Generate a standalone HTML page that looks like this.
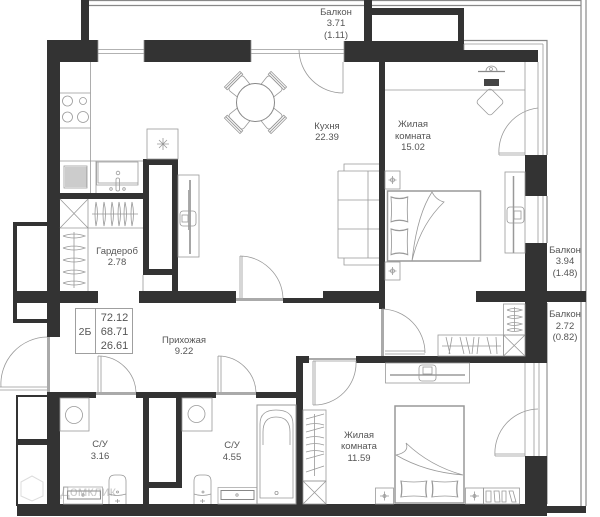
<!DOCTYPE html>
<html><head><meta charset="utf-8"><style>
html,body{margin:0;padding:0;background:#fff;width:600px;height:517px;overflow:hidden}
svg{display:block}
text{font-family:"Liberation Sans",sans-serif;font-size:9.5px;fill:#555;text-anchor:middle}
.w{fill:#333}
.l{fill:none;stroke:#999;stroke-width:.8}
.m{fill:none;stroke:#888;stroke-width:1.2}
.t{fill:#aaa}
</style></head><body>
<svg width="600" height="517" viewBox="0 0 600 517" xmlns="http://www.w3.org/2000/svg">
<defs>
<g id="chair">
<path class="l" d="M-9 -17L-10 -26Q-10 -29 -7 -29L7 -29Q10 -29 10 -26L9 -17"/>
<rect class="l" x="-11" y="-31" width="22" height="2"/>
<rect class="l" x="-11" y="-33" width="22" height="2"/>
</g>
<g id="lamp">
<rect class="l" x="0" y="0" width="15" height="18"/>
<circle class="l" cx="7.5" cy="9" r="2"/>
<path class="l" d="M3.5 9H11.5M7.5 5V13"/>
</g>
<path id="pil" class="l" d="M0 0Q8 2 16 0Q15 8 16 16Q8 14 0 16Q1 8 0 0Z"/>
</defs>

<!-- balcony outlines -->
<path class="m" d="M89 0.5H581M89 5.5H364M372 5.5H581M581 0V506M586 0V506M464 40.5H547V155M547 196V243M547 303V504"/>
<path class="l" d="M464 44H543"/>
<rect class="w" x="547" y="506" width="39" height="7"/>

<!-- walls -->
<g class="w">
<rect x="81" y="0" width="8" height="41"/>
<rect x="47" y="40" width="51" height="22"/>
<rect x="144" y="40" width="107" height="22"/>
<rect x="47" y="40" width="13" height="297"/>
<rect x="344" y="41" width="120" height="21"/>
<rect x="464" y="50" width="74" height="12"/>
<rect x="364" y="0" width="8" height="41"/>
<rect x="372" y="8" width="92" height="7"/>
<rect x="458" y="8" width="6" height="42"/>
<rect x="379" y="62" width="6" height="247"/>
<rect x="60" y="193" width="83" height="6"/>
<rect x="143" y="159" width="6" height="116"/>
<rect x="172" y="159" width="6" height="132"/>
<rect x="143" y="159" width="35" height="6"/>
<rect x="143" y="269" width="35" height="6"/>
<rect x="13" y="222" width="34" height="4"/>
<rect x="13" y="222" width="4" height="101"/>
<rect x="13" y="291" width="85" height="12"/>
<rect x="13" y="319" width="34" height="4"/>
<rect x="139" y="291" width="97" height="12"/>
<rect x="283" y="298" width="40" height="5"/>
<rect x="323" y="291" width="56" height="12"/>
<rect x="525" y="155" width="22" height="41"/>
<rect x="525" y="243" width="22" height="120"/>
<rect x="476" y="291" width="110" height="11"/>
<rect x="356" y="356" width="191" height="7"/>
<rect x="296" y="356" width="13" height="7"/>
<rect x="296" y="356" width="7" height="150"/>
<rect x="525" y="456" width="22" height="48"/>
<rect x="17" y="504" width="530" height="12"/>
<rect x="47" y="392" width="13" height="114"/>
<rect x="60" y="392" width="36" height="6"/>
<rect x="136" y="392" width="80" height="6"/>
<rect x="256" y="392" width="44" height="6"/>
<rect x="143" y="398" width="6" height="108"/>
<rect x="176" y="398" width="6" height="90"/>
<rect x="149" y="482" width="33" height="6"/>
<rect x="16" y="395" width="31" height="2"/>
<rect x="16" y="395" width="2" height="111"/>
<rect x="17" y="439" width="30" height="6"/>
</g>

<!-- thresholds -->
<g class="t">
<rect x="236" y="298" width="47" height="3"/>
<rect x="96" y="392" width="40" height="3"/>
<rect x="216" y="392" width="40" height="3"/>
<rect x="47" y="337" width="3" height="55"/>
<rect x="381" y="309" width="3" height="47"/>
<rect x="309" y="358" width="47" height="2"/>
</g>

<!-- windows -->
<path class="l" d="M98 40V62M144 40V62M98 49.5H144M98 53.5H144M251 40V62M251 49.5H344M251 53.5H344M344 41V62M464 44V50M538 62V155M543 44V155M538 196V243M543 196V243M525 363V456M547 363V456M534 363V456M539 363V456"/>

<!-- doors -->
<path class="l" d="M343 93V62M343 93A44 44 0 0 1 299 50"/>
<path class="l" d="M538 108A44 44 0 0 0 499 155M499 155H525M499 153H525"/>
<path class="l" d="M240 256V298M242 256V298M240 256A44 44 0 0 1 283 298"/>
<path class="l" d="M1 387A47 47 0 0 1 47 337M0 387H47M0 390H47"/>
<path class="l" d="M98 356V392M101 356V392M98 356A38 38 0 0 1 136 392"/>
<path class="l" d="M218 356V392M221 356V392M218 356A38 38 0 0 1 256 392"/>
<path class="l" d="M382 309A44 44 0 0 1 425 353M385 351H425M385 354H425"/>
<path class="l" d="M313 405V361M315 405V361M313 405A42 42 0 0 0 356 361M313 361H356"/>
<path class="l" d="M538 409A44 44 0 0 0 495 456M495 456H525M495 454H525"/>

<!-- kitchen counter -->
<path class="l" d="M90.5 62V193M60 93H90.5M60 128H90.5M60 161H143M96 161V193"/>
<circle class="l" cx="67.5" cy="101" r="5"/>
<circle class="l" cx="83" cy="101" r="3.5"/>
<circle class="l" cx="67.5" cy="117" r="5"/>
<circle class="l" cx="83" cy="117" r="5.5"/>
<rect class="l" x="64" y="166" width="23" height="22"/>
<path d="M65 168H87M65 170H87M65 172H87M65 174H87M65 176H87M65 178H87M65 180H87M65 182H87M65 184H87M65 186H87" stroke="#777" stroke-width=".7"/>
<path class="l" d="M96.5 162H138V185H96.5ZM98 162V183H138"/>
<circle class="l" cx="118" cy="173" r="1.8"/>
<rect class="l" x="116" y="178" width="3.5" height="13" rx="1.5"/>
<circle class="l" cx="111" cy="189" r="1.3"/>
<circle class="l" cx="124" cy="189" r="1.3"/>
<rect class="l" x="147" y="129" width="31" height="30"/>
<path class="l" d="M157 144H169M163 138V150M159 140L167 148M167 140L159 148"/>
<path class="l" d="M143 275V291"/>

<!-- kitchen TV -->
<rect class="l" x="178" y="175" width="21" height="82"/>
<path d="M190 180V254" stroke="#888" stroke-width="1.5"/>
<path d="M188.5 190V230" stroke="#aaa"/>
<rect class="l" x="180" y="211" width="16" height="15" rx="3"/>
<rect class="l" x="182" y="215" width="6" height="7"/>

<!-- table -->
<use href="#chair" transform="translate(255.5 102.5) rotate(-45)"/>
<use href="#chair" transform="translate(255.5 102.5) rotate(45)"/>
<use href="#chair" transform="translate(255.5 102.5) rotate(135)"/>
<use href="#chair" transform="translate(255.5 102.5) rotate(225)"/>
<circle cx="255.5" cy="102.5" r="19" fill="#fff" stroke="#888" stroke-width="1"/>

<!-- sofa -->
<path class="l" d="M344 171V164H379M338 171H379M338 171V258H379M338 200H379M338 229H379M368 171V258M344 258V265H379"/>

<!-- wardrobe -->
<path class="l" d="M60 228H143M88 199V291M60 199L88 228M88 199L60 228"/>
<path class="l" d="M92 214H138"/>
<path class="l" d="M96 202Q99 214 96 226Q94 214 96 202M104 202Q107 214 104 226Q102 214 104 202M112 202Q115 214 112 226Q110 214 112 202M119 202Q122 214 119 226Q117 214 119 202M125 202Q128 214 125 226Q123 214 125 202M132 202Q135 214 132 226Q130 214 132 202"/>
<path class="l" d="M74 232V288M63 236Q74 232 85 236Q74 240 63 236M63 248Q74 244 85 248Q74 252 63 248M63 260Q74 256 85 260Q74 264 63 260M63 272Q74 268 85 272Q74 276 63 272M63 283Q74 279 85 283Q74 287 63 283"/>

<!-- info box -->
<rect x="75.5" y="308.5" width="57" height="45" fill="#fff" stroke="#888" stroke-width=".8"/>
<path d="M95.5 308.5V353.5" stroke="#888" stroke-width=".8"/>
<text x="85" y="335" style="font-size:10.5px">2Б</text>
<text x="114.5" y="321" style="font-size:11px">72.12</text>
<text x="114.5" y="335" style="font-size:11px">68.71</text>
<text x="114.5" y="349" style="font-size:11px">26.61</text>

<!-- room 1 furniture -->
<path class="l" d="M385 90H525M525 62V155"/>
<path class="m" d="M478 71.5H505"/>
<path class="l" d="M486 71A5.5 5 0 0 1 497 71"/>
<circle class="l" cx="491" cy="69" r="1.5"/>
<rect x="484" y="79" width="15" height="7" fill="#444"/>
<rect class="l" x="480" y="92" width="20" height="20" rx="3" transform="rotate(45 490 102)"/>
<use href="#lamp" transform="translate(385 171)"/>
<use href="#lamp" transform="translate(385 262)"/>
<rect x="387.5" y="191" width="93" height="70" fill="#fff" stroke="#999" stroke-width="1.5"/>
<use href="#pil" transform="translate(391 197) scale(1.05 1.55)"/>
<use href="#pil" transform="translate(391 229) scale(1.05 1.6)"/>
<path class="l" d="M412 261Q417 215 432 192Q436 200 444 202Q420 225 412 261Z"/>

<!-- room 1 TV -->
<rect class="l" x="505" y="172" width="20" height="81"/>
<path d="M513.5 176V253" stroke="#999" stroke-width="1.5"/>
<rect class="l" x="507" y="207" width="17" height="16" rx="3"/>
<rect class="l" x="514" y="211" width="7" height="8"/>

<!-- room 1 wardrobe -->
<rect class="l" x="503.5" y="304" width="21.5" height="31"/>
<path class="l" d="M514.5 307V331M507 310Q514 307 522 310Q514 313 507 310M507 317Q514 314 522 317Q514 320 507 317M507 324Q514 321 522 324Q514 327 507 324M507 330Q514 327 522 330Q514 333 507 330"/>
<rect class="l" x="503.5" y="335" width="21.5" height="21"/>
<path class="l" d="M503.5 335L525 356M525 335L503.5 356"/>
<rect class="l" x="438" y="335" width="65.5" height="21"/>
<path class="l" d="M442 346H501M446 337L450 354M452 337L449 354M460 337L464 354M466 337L470 354M474 337L472 354M479 337L477 354M487 337L491 354M496 337L497 354"/>

<!-- bedroom 2 -->
<rect class="l" x="385.5" y="363" width="84" height="20"/>
<path class="m" d="M390 375H465"/>
<rect class="l" x="419" y="365" width="17" height="16" rx="3"/>
<rect class="l" x="423" y="367" width="9" height="7"/>
<rect x="395" y="406" width="69" height="97" fill="#fff" stroke="#999" stroke-width="1.5"/>
<path class="l" d="M396 455Q410 452 406 443Q430 466 463 475Q425 472 396 455Z"/>
<use href="#pil" transform="translate(401 481) scale(1.6 1)"/>
<use href="#pil" transform="translate(432 481) scale(1.6 1)"/>
<rect class="l" x="375.5" y="488" width="18" height="16"/>
<rect class="l" x="465.5" y="488" width="18" height="16"/>
<path class="l" d="M380 496H389M384.5 491.5V500.5M470 496H479M474.5 491.5V500.5"/>
<circle class="l" cx="384.5" cy="496" r="1.5"/>
<circle class="l" cx="474.5" cy="496" r="1.5"/>
<rect class="l" x="483.5" y="488" width="36" height="16"/>
<path class="l" d="M486 491H491V502H486ZM494 491H499L500 502H495ZM502 491H506V502H502ZM509 491H513L516 502H512Z"/>
<rect class="l" x="303" y="410" width="23" height="71"/>
<path class="l" d="M314.5 414V476M306 419L324 414M306 425Q315 422 324 425M306 432L324 427M306 438Q315 435 324 438M306 445Q315 442 324 445M306 452Q315 449 324 452M306 459L324 454M306 472L324 466"/>
<rect class="l" x="303" y="481" width="23" height="23"/>
<path class="l" d="M303 481L326 504M326 481L303 504"/>

<!-- bathrooms -->
<rect class="l" x="60" y="398" width="29" height="33"/>
<circle class="l" cx="74" cy="415" r="8.5"/>
<rect class="l" x="182" y="398" width="30" height="33"/>
<circle class="l" cx="196.5" cy="414" r="8.5"/>
<rect x="63.5" y="487" width="39" height="17" fill="none" stroke="#aaa" stroke-width=".8"/>
<rect x="67.5" y="491" width="33" height="8" fill="#fff" stroke="#888" stroke-width="1"/>
<rect x="218" y="487.5" width="39" height="16.5" fill="none" stroke="#aaa" stroke-width=".8"/>
<rect x="221" y="490.5" width="33" height="9" fill="#fff" stroke="#888" stroke-width="1"/>
<circle class="l" cx="83" cy="495" r="1.2"/>
<circle class="l" cx="237" cy="495" r="1.2"/>
<path class="l" d="M109 504V481Q109 475 115 475H120Q126 475 126 481V504M109 494Q117 497 126 494"/>
<path class="l" d="M194 504V481Q194 475 200 475H205Q211 475 211 481V504M194 494Q202 497 211 494"/>
<circle class="l" cx="117.5" cy="492" r="1"/>
<path class="l" d="M115 501H120M117.5 499V503"/>
<circle class="l" cx="203" cy="492" r="1"/>
<path class="l" d="M200 501H205M202.5 499V503"/>
<rect x="257" y="405" width="39" height="99" fill="none" stroke="#999" stroke-width="1"/>
<path class="l" d="M260 498V424Q260 410 276 410Q293 410 293 424V498ZM263 445V432Q263 417 276 417Q290 417 290 432V445"/>
<circle class="l" cx="276.5" cy="493" r="1.6"/>

<!-- watermark -->
<path d="M21 482L32 476L43 482V496L32 501L21 496Z" fill="none" stroke="#ddd" stroke-width="1"/>
<text x="88" y="496" style="font-size:14px;fill:#999;opacity:.5">Домклик</text>

<!-- labels -->
<text x="336" y="15">Балкон</text>
<text x="336" y="26">3.71</text>
<text x="336" y="38">(1.11)</text>
<text x="327" y="129">Кухня</text>
<text x="327" y="140">22.39</text>
<text x="413" y="127">Жилая</text>
<text x="413" y="139">комната</text>
<text x="413" y="150">15.02</text>
<text x="565" y="253">Балкон</text>
<text x="565" y="264">3.94</text>
<text x="565" y="276">(1.48)</text>
<text x="565" y="317">Балкон</text>
<text x="565" y="329">2.72</text>
<text x="565" y="340">(0.82)</text>
<text x="117" y="254">Гардероб</text>
<text x="117" y="265">2.78</text>
<text x="184" y="343">Прихожая</text>
<text x="184" y="354">9.22</text>
<text x="100" y="447">С/У</text>
<text x="100" y="459">3.16</text>
<text x="232" y="448">С/У</text>
<text x="232" y="460">4.55</text>
<text x="359" y="438">Жилая</text>
<text x="359" y="449">комната</text>
<text x="359" y="461">11.59</text>
</svg>
</body></html>
